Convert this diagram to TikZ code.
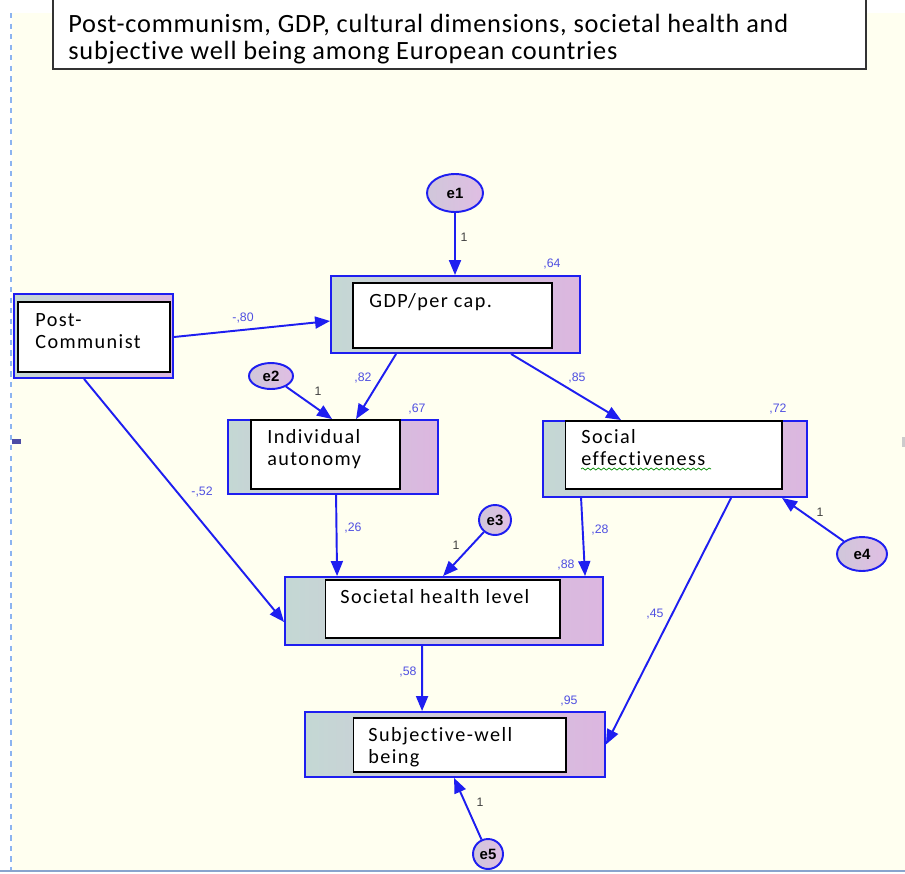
\documentclass[tikz,border=0pt]{standalone}
\usepackage{fontspec}
\setmainfont{Carlito}
\newfontfamily\titlefont[LetterSpace=3, Ligatures=NoCommon]{Carlito}
\newfontfamily\boxfont[LetterSpace=7, Ligatures=NoCommon]{Carlito}
\newfontfamily\numfont{Liberation Sans}
\usetikzlibrary{arrows.meta,shapes.geometric,decorations.pathmorphing}

\definecolor{paper}{RGB}{255,255,240}
\definecolor{boxl}{RGB}{196,216,212}
\definecolor{boxr}{RGB}{220,182,224}
\definecolor{pathblue}{RGB}{30,30,240}
\definecolor{numblue}{RGB}{80,80,225}
\definecolor{edge}{RGB}{140,180,240}

\tikzset{
  varbox/.style={draw=pathblue, line width=1.1pt, left color=boxl, right color=boxr,
    rectangle, inner sep=0pt},
  inbox/.style={draw=black, line width=0.6pt, fill=white, rectangle, inner sep=0pt},
  vartext/.style={anchor=north west, align=left, inner sep=0pt,
    font=\boxfont\fontsize{11.5}{12.5}\selectfont},
  errnode/.style={ellipse, draw=pathblue, line width=1.1pt, inner sep=0pt,
    left color=boxl!50!boxr, right color=boxr!90!white,
    font=\numfont\bfseries\fontsize{8.5}{8.5}\selectfont},
  pathline/.style={draw=pathblue, line width=1.1pt, -{Triangle[length=0.3cm, width=0.24cm]}},
  coef/.style={text=numblue, inner sep=0pt, font=\numfont\fontsize{7}{7}\selectfont},
  fixed/.style={text=black!75, inner sep=0pt, font=\numfont\fontsize{7}{7}\selectfont}
}

\begin{document}
\begin{tikzpicture}[x=0.02cm, y=-0.02cm]

  % page and frame lines
  \useasboundingbox (0,0) rectangle (905,873);
  \fill[white] (0,0) rectangle (905,873);
  \fill[paper] (12,13) rectangle (905,870);
  \draw[edge, dashed, line width=0.8pt] (11,13) -- (11,873);
  \draw[edge!70!gray, line width=0.8pt] (0,871) -- (905,871);
  \fill[blue!50!black!70] (12,439) rectangle (21,444);
  \fill[gray!40] (902,437) rectangle (905,447);

  % title
  \node[draw=black!80, line width=0.8pt, fill=white, minimum width=16.26cm, minimum height=1.4cm,
    inner sep=0pt] (title) at (459.5,34) {};
  \node[anchor=north west, align=left, inner sep=0pt, font=\titlefont\fontsize{15}{15.3}\selectfont]
    (titletxt) at (68,14) {Post-communism, GDP, cultural dimensions, societal health and\\
    subjective well being among European countries};

  % observed variables
  \node[varbox, minimum width=3.18cm, minimum height=1.68cm] (post) at (93.5,336) {};
  \node[inbox, minimum width=3.04cm, minimum height=1.40cm] (postin) at (94,337) {};
  \node[vartext] (posttxt) at (35,313) {Post-\\Communist};

  \node[varbox, minimum width=4.98cm, minimum height=1.54cm] (gdp) at (455.5,314.5) {};
  \node[inbox, minimum width=3.98cm, minimum height=1.30cm] (gdpin) at (452.5,315.5) {};
  \node[vartext] (gdptxt) at (369,293) {GDP/per cap.};

  \node[varbox, minimum width=4.20cm, minimum height=1.48cm] (ia) at (333,457) {};
  \node[inbox, minimum width=2.98cm, minimum height=1.38cm] (iain) at (325.5,454.5) {};
  \node[vartext] (iatxt) at (267,429) {Individual\\autonomy};

  \node[varbox, minimum width=5.28cm, minimum height=1.52cm] (socl) at (675,459) {};
  \node[inbox, minimum width=4.34cm, minimum height=1.36cm] (soclin) at (673.5,455) {};
  \node[vartext] (socltxt) at (581,429) {Social\\effectiveness};
  \draw[green!55!black, line width=0.4pt, decorate,
    decoration={snake, amplitude=0.6pt, segment length=3pt}] (581,469) -- (711,469);

  \node[varbox, minimum width=6.36cm, minimum height=1.36cm] (sh) at (444,611) {};
  \node[inbox, minimum width=4.70cm, minimum height=1.16cm] (shin) at (442.5,609) {};
  \node[vartext] (shtxt) at (340,589) {Societal health level};

  \node[varbox, minimum width=6.00cm, minimum height=1.30cm] (swb) at (455,744.5) {};
  \node[inbox, minimum width=4.26cm, minimum height=1.08cm] (swbin) at (459.5,745) {};
  \node[vartext] (swbtxt) at (368,727) {Subjective-well\\being};

  % error terms
  \node[errnode, minimum width=1.12cm, minimum height=0.76cm] (e1) at (455,193) {e1};
  \node[errnode, minimum width=0.88cm, minimum height=0.52cm] (e2) at (271,376) {e2};
  \node[errnode, minimum width=0.64cm, minimum height=0.60cm] (e3) at (495,520) {e3};
  \node[errnode, minimum width=1.00cm, minimum height=0.68cm] (e4) at (862,554) {e4};
  \node[errnode, minimum width=0.60cm, minimum height=0.60cm] (e5) at (488,854) {e5};

  % paths
  \draw[pathline] (e1.south) -- (e1.south |- gdp.north);
  \draw[pathline] ([shift={(0,1)}]post.east) -- ([shift={(0,6.5)}]gdp.west);
  \draw[pathline] ([shift={(66,0)}]gdp.south west) -- ([shift={(129,0)}]ia.north west);
  \draw[pathline] (e2) -- ([shift={(105,0)}]ia.north west);
  \draw[pathline] ([shift={(181,0)}]gdp.south west) -- ([shift={(79,0)}]socl.north west);
  \draw[pathline] ([shift={(71,0)}]post.south west) -- ([shift={(0,11)}]sh.west);
  \draw[pathline] ([shift={(109,0)}]ia.south west) -- ([shift={(53,0)}]sh.north west);
  \draw[pathline] (e3) -- ([shift={(159,0)}]sh.north west);
  \draw[pathline] ([shift={(39,0)}]socl.south west) -- ([shift={(301,0)}]sh.north west);
  \draw[pathline] (e4) -- ([shift={(240,0)}]socl.south west);
  \draw[pathline] ([shift={(189,0)}]socl.south west) -- (swb.east);
  \draw[pathline] ([shift={(138,0)}]sh.south west) -- ([shift={(118,0)}]swb.north west);
  \draw[pathline] (e5) -- ([shift={(150,0)}]swb.south west);

  % estimates
  \node[coef] (r2gdp) at (552,264) {,64};
  \node[coef] (r2ia) at (417,409) {,67};
  \node[coef] (r2socl) at (778,409) {,72};
  \node[coef] (r2sh) at (566,565) {,88};
  \node[coef] (r2swb) at (569,701) {,95};
  \node[coef] (bpg) at (243,318) {-,80};
  \node[coef] (bgi) at (363,378) {,82};
  \node[coef] (bgs) at (577,378) {,85};
  \node[coef] (bps) at (202,492) {-,52};
  \node[coef] (bis) at (353,528) {,26};
  \node[coef] (bss) at (600,530) {,28};
  \node[coef] (bsw) at (655,614) {,45};
  \node[coef] (bhw) at (408,672) {,58};
  \node[fixed] (f1) at (464,237) {1};
  \node[fixed] (f2) at (318,391) {1};
  \node[fixed] (f3) at (456,545) {1};
  \node[fixed] (f4) at (820,512) {1};
  \node[fixed] (f5) at (480,802) {1};

\end{tikzpicture}
\end{document}
